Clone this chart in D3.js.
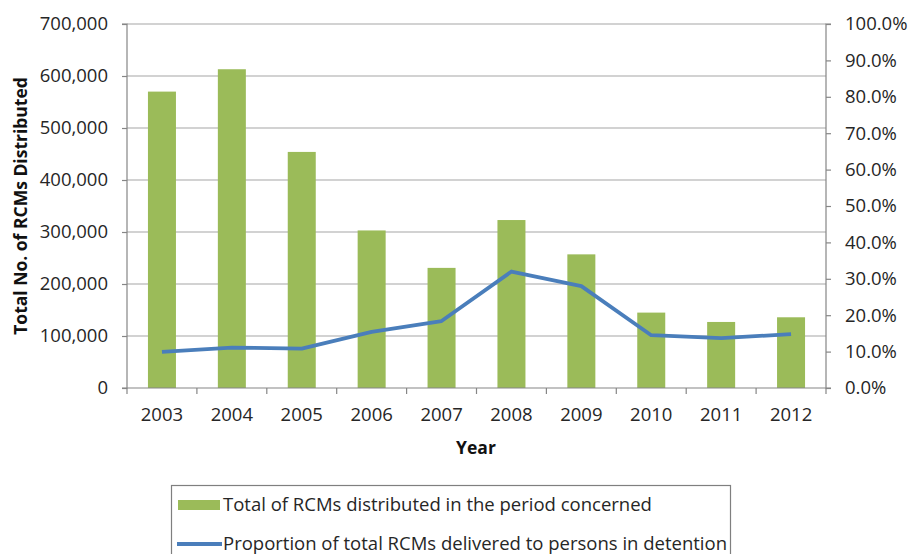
<!DOCTYPE html>
<html>
<head>
<meta charset="utf-8">
<script src="https://cdn.jsdelivr.net/npm/d3@7"></script>
<style>
  html, body { margin: 0; padding: 0; background: #fff; }
  svg { display: block; font-family: "Open Sans", "DejaVu Sans", sans-serif; }
</style>
</head>
<body>
<svg id="chart" width="910" height="554"></svg>
<script>
// RCMs distributed per year and share delivered to persons in detention
const years = ["2003", "2004", "2005", "2006", "2007", "2008", "2009", "2010", "2011", "2012"];
const totalRCMs = [570000, 613000, 454000, 303000, 231000, 323000, 257000, 145000, 127000, 136000];
const detentionShare = [0.099, 0.111, 0.108, 0.154, 0.184, 0.320, 0.280, 0.145, 0.137, 0.148];
const leftTicks = [0, 100000, 200000, 300000, 400000, 500000, 600000, 700000];
const rightTicks = [0, 0.1, 0.2, 0.3, 0.4, 0.5, 0.6, 0.7, 0.8, 0.9, 1.0];
const legendLabels = [
  "Total of RCMs distributed in the period concerned",
  "Proportion of total RCMs delivered to persons in detention"
];

const barColor = "#9bbb59";
const lineColor = "#4a7ebb";
const axisColor = "#868686";
const gridColor = "#a6a6a6";
const textColor = "#262626";

const svg = d3.select("#chart");
const plot = { left: 127, right: 826, top: 24, bottom: 388 };

const xCat = d3.scaleBand().domain(years).range([plot.left, plot.right]);
const yLeft = d3.scaleLinear().domain([0, 700000]).range([plot.bottom, plot.top]);
const yRight = d3.scaleLinear().domain([0, 1]).range([plot.bottom, plot.top]);
const barWidth = 28;

// horizontal gridlines at the left-axis major ticks
svg.append("g")
  .selectAll("line")
  .data(leftTicks.filter(d => d > 0))
  .join("line")
  .attr("x1", plot.left).attr("x2", plot.right)
  .attr("y1", d => yLeft(d)).attr("y2", d => yLeft(d))
  .attr("stroke", gridColor).attr("stroke-width", 1.2);

// bars
svg.append("g")
  .selectAll("rect")
  .data(years.map((y, i) => ({ year: y, value: totalRCMs[i] })))
  .join("rect")
  .attr("x", d => xCat(d.year) + xCat.bandwidth() / 2 - barWidth / 2)
  .attr("width", barWidth)
  .attr("y", d => yLeft(d.value))
  .attr("height", d => yLeft(0) - yLeft(d.value))
  .attr("fill", barColor);

// left axis
const leftAxis = svg.append("g")
  .attr("transform", `translate(${plot.left},0)`)
  .call(d3.axisLeft(yLeft).tickValues(leftTicks).tickSize(5).tickPadding(14)
    .tickFormat(d3.format(",")));
// right axis
const rightAxis = svg.append("g")
  .attr("transform", `translate(${plot.right},0)`)
  .call(d3.axisRight(yRight).tickValues(rightTicks).tickSize(5).tickPadding(14)
    .tickFormat(d3.format(".1%")));
// bottom axis with ticks at category boundaries
const bottomAxis = svg.append("g")
  .attr("transform", `translate(0,${plot.bottom})`)
  .call(d3.axisBottom(xCat).tickSize(0).tickPadding(20));
bottomAxis.selectAll(".boundary")
  .data(d3.range(years.length + 1))
  .join("line")
  .attr("class", "boundary")
  .attr("x1", i => plot.left + i * xCat.step())
  .attr("x2", i => plot.left + i * xCat.step())
  .attr("y1", 0).attr("y2", 6)
  .attr("stroke", axisColor).attr("stroke-width", 1.2);

[leftAxis, rightAxis, bottomAxis].forEach(g => {
  g.select(".domain").attr("stroke", axisColor).attr("stroke-width", 1.2);
  g.selectAll(".tick line").attr("stroke", axisColor).attr("stroke-width", 1.2);
  g.selectAll(".tick text")
    .attr("fill", textColor)
    .style("font-size", "18.5px")
    .style("font-family", "'Open Sans', sans-serif");
});
leftAxis.select(".domain").attr("d", `M-5,${plot.top}H0V${plot.bottom}H-5`);
rightAxis.select(".domain").attr("d", `M5,${plot.top}H0V${plot.bottom}H5`);
bottomAxis.select(".domain").attr("d", `M${plot.left},0H${plot.right}`);

// proportion line on the right scale
const line = d3.line()
  .x((d, i) => xCat(years[i]) + xCat.bandwidth() / 2)
  .y(d => yRight(d));
svg.append("path")
  .datum(detentionShare)
  .attr("d", line)
  .attr("fill", "none")
  .attr("stroke", lineColor)
  .attr("stroke-width", 3.8)
  .attr("stroke-linejoin", "round");

// axis titles
svg.append("text")
  .attr("transform", `translate(27,${(plot.top + plot.bottom) / 2}) rotate(-90)`)
  .attr("text-anchor", "middle")
  .attr("fill", "#111")
  .style("font-size", "17.5px")
  .style("font-weight", "bold")
  .text("Total No. of RCMs Distributed");
svg.append("text")
  .attr("x", 476).attr("y", 453.5)
  .attr("text-anchor", "middle")
  .attr("fill", "#111")
  .style("font-size", "17.5px")
  .style("font-weight", "bold")
  .text("Year");

// legend (box runs past the bottom edge; long label is clipped at its border)
const legendBox = { x: 171, y: 485, w: 559, h: 90 };
svg.append("clipPath").attr("id", "legend-clip")
  .append("rect")
  .attr("x", legendBox.x).attr("y", legendBox.y)
  .attr("width", legendBox.w).attr("height", legendBox.h);
const legend = svg.append("g");
legend.append("rect")
  .attr("x", legendBox.x + 0.5).attr("y", legendBox.y + 0.5)
  .attr("width", legendBox.w).attr("height", legendBox.h)
  .attr("fill", "#fff").attr("stroke", "#7f7f7f").attr("stroke-width", 1.2);
legend.append("rect")
  .attr("x", 178).attr("y", 500).attr("width", 42).attr("height", 10)
  .attr("fill", barColor);
legend.append("line")
  .attr("x1", 177).attr("x2", 222).attr("y1", 544).attr("y2", 544)
  .attr("stroke", lineColor).attr("stroke-width", 3.8);
legend.append("g")
  .attr("clip-path", "url(#legend-clip)")
  .selectAll("text")
  .data(legendLabels)
  .join("text")
  .attr("x", 223)
  .attr("y", (d, i) => 511 + i * 39)
  .attr("fill", textColor)
  .style("font-size", "18.5px")
  .text(d => d);
</script>
</body>
</html>
